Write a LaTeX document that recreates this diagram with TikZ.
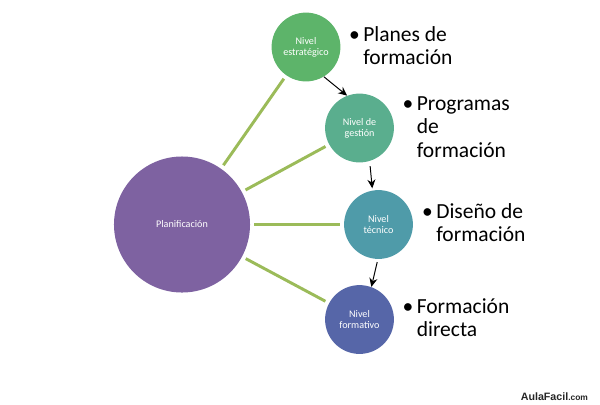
\documentclass[tikz,border=0pt]{standalone}
\usepackage{fontspec}
\setmainfont{Carlito}
\newfontfamily\wmfont{Liberation Sans}
\usetikzlibrary{arrows.meta}
\definecolor{colEstr}{HTML}{5DB46A}
\definecolor{colGest}{HTML}{5AAE8E}
\definecolor{colTec}{HTML}{4F9BA9}
\definecolor{colForm}{HTML}{5666A8}
\definecolor{colPlan}{HTML}{7E62A1}
\definecolor{colLink}{HTML}{9BBB59}
\tikzset{
  nivel/.style={circle, draw=none, text=white, minimum size=1.72cm, inner sep=0pt,
      align=center, font=\fontsize{7.2}{8}\selectfont},
  link/.style={colLink, line width=2.1pt, shorten <=1mm, shorten >=1mm},
  flecha/.style={-{Stealth[length=2.2mm,width=2mm]}, line width=0.7pt},
  bullettext/.style={anchor=base west, inner sep=0pt, align=left,
      font=\fontsize{15.3}{16.6}\selectfont},
}

\begin{document}
\begin{tikzpicture}[x=0.025cm, y=-0.025cm]
  \useasboundingbox (0,0) rectangle (600,404);
  % central circle
  \node[nivel, fill=colPlan, minimum size=3.4cm] (planif) at (182,224.5) {Planificación};
  % levels
  \node[nivel, fill=colEstr] (estr) at (306,47) {Nivel\\estratégico};
  \node[nivel, fill=colGest] (gest) at (359.5,128) {Nivel de\\gestión};
  \node[nivel, fill=colTec] (tec) at (378.5,224.5) {Nivel\\técnico};
  \node[nivel, fill=colForm] (fmt) at (359.5,319.5) {Nivel\\formativo};
  % green links
  \draw[link] (planif) -- (estr);
  \draw[link] (planif) -- (gest);
  \draw[link] (planif) -- (tec);
  \draw[link] (planif) -- (fmt);
  % arrows
  \draw[flecha] (estr.-59) -- (gest.111);
  \draw[flecha, shorten <=1.25mm, shorten >=0.5mm] (gest.-73) -- (tec.100);
  \draw[flecha, shorten <=0.75mm] (tec.-91) -- (fmt.70);
  % bullet texts (anchored at the baseline of the last line)
  \node[bullettext] (planes) at (363,64.5) {\llap{\textbullet\hspace{2.5pt}}Planes de\\formación};
  \node[bullettext] (prog) at (416.5,157) {\llap{\textbullet\hspace{2.5pt}}Programas\\de\\formación};
  \node[bullettext] (dis) at (436,241.5) {\llap{\textbullet\hspace{2.5pt}}Diseño de\\formación};
  \node[bullettext] (form) at (416.5,336.5) {\llap{\textbullet\hspace{2.5pt}}Formación\\directa};
  % watermark
  \node[anchor=base west, inner sep=0pt, text=black!85] (logo) at (520.5,400)
    {\wmfont\bfseries\fontsize{7.6}{8}\selectfont AulaFacil{\fontsize{6}{7}\selectfont .com}};
\end{tikzpicture}
\end{document}
